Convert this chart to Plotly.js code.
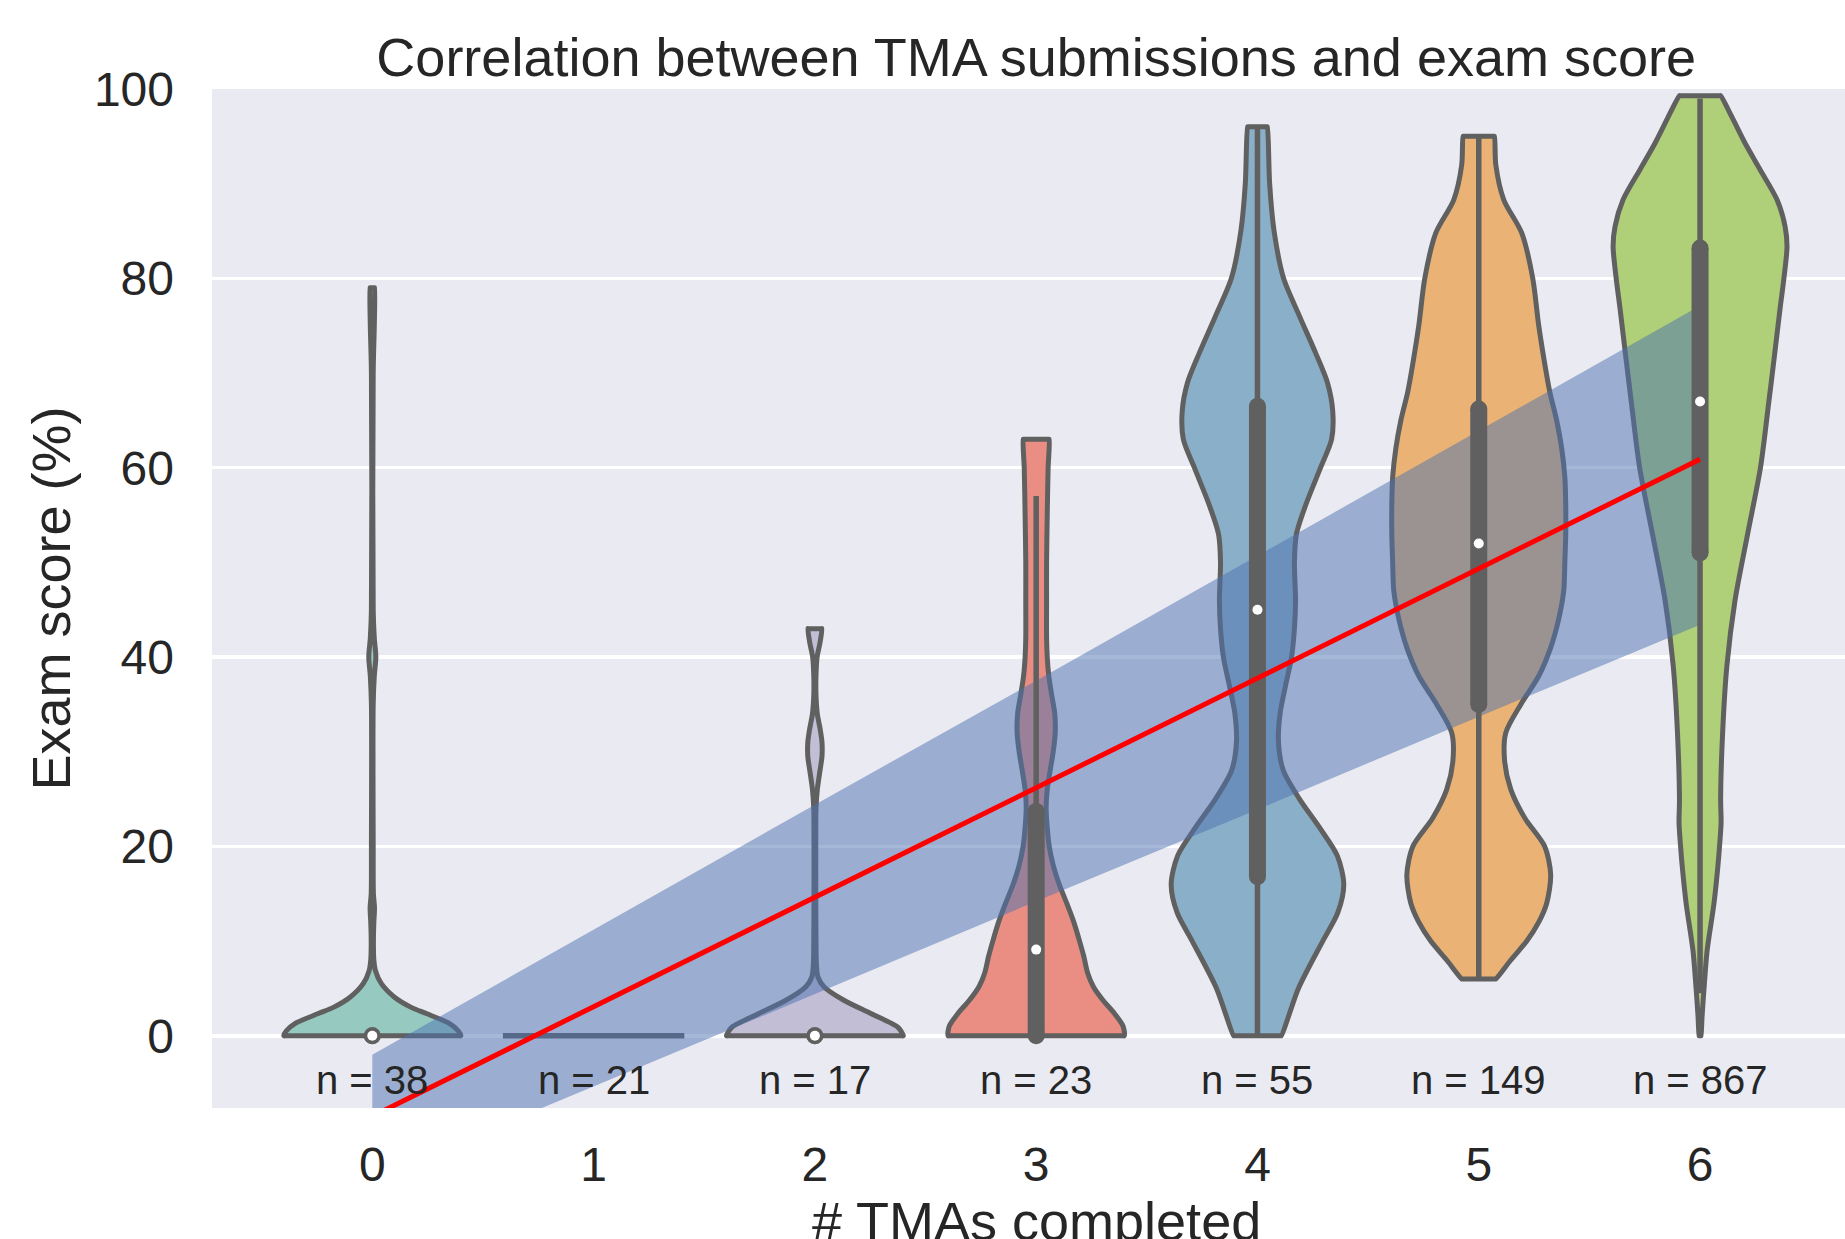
<!DOCTYPE html>
<html><head><meta charset="utf-8">
<script src="https://cdn.plot.ly/plotly-3.0.1.min.js"></script>
<style>html,body{margin:0;padding:0;background:#fff;overflow:hidden}#chart{width:1845px;height:1239px}</style>
</head><body><div id="chart"></div>
<script>
// ---------- data ----------
const categories = [0, 1, 2, 3, 4, 5, 6];
const tickLabels = ['0', '1', '2', '3', '4', '5', '6'];
const counts = [38, 21, 17, 23, 55, 149, 867];

// violin density profiles: exam-score levels and half-widths (in category units)
const v0Y = [0, 0.5, 1.3, 2.35, 3.0, 4.1, 5.5, 6.9, 8, 10, 12, 13.5, 15, 20, 35, 38, 40, 42, 45, 70, 75, 79];
const v0W = [0.400, 0.389, 0.348, 0.244, 0.176, 0.099, 0.041, 0.014, 0.007, 0.005, 0.007, 0.010, 0.005, 0.004, 0.004, 0.009, 0.016, 0.009, 0.004, 0.004, 0.009, 0.011];
const v1Y = [0];
const v1W = [0.41];
const v2Y = [0, 0.5, 0.93, 2.35, 3.75, 5.16, 6.2, 7.5, 10, 15, 20, 24, 26, 28, 29.5, 31, 32.5, 34, 36, 38, 40, 41.5, 43];
const v2W = [0.400, 0.389, 0.374, 0.253, 0.131, 0.042, 0.014, 0.007, 0.005, 0.004, 0.004, 0.005, 0.011, 0.023, 0.032, 0.032, 0.023, 0.011, 0.005, 0.005, 0.010, 0.023, 0.032];
const v3Y = [0, 1, 2.4, 3.8, 5.2, 6.6, 8.4, 10, 12, 14, 16, 18, 20, 22, 24, 26, 28, 30, 32, 34, 36, 38, 40, 42, 46, 50, 55, 60, 63];
const v3W = [0.398, 0.393, 0.352, 0.300, 0.258, 0.233, 0.215, 0.196, 0.170, 0.138, 0.104, 0.077, 0.059, 0.050, 0.045, 0.050, 0.063, 0.077, 0.086, 0.084, 0.070, 0.057, 0.050, 0.047, 0.047, 0.047, 0.050, 0.054, 0.059];
const v4Y = [0, 5, 10, 13, 16, 19, 22, 25, 28, 31, 34, 37, 40, 43, 46, 50, 53, 56, 60, 63, 66, 69, 72, 76, 80, 85, 90, 96];
const v4W = [0.108, 0.185, 0.295, 0.363, 0.390, 0.361, 0.280, 0.190, 0.117, 0.095, 0.102, 0.127, 0.154, 0.167, 0.172, 0.167, 0.176, 0.217, 0.285, 0.335, 0.340, 0.316, 0.265, 0.190, 0.118, 0.075, 0.055, 0.045];
const v5Y = [6, 8, 10, 12, 14, 17, 20, 23, 26, 29, 32, 35, 38, 41, 44, 47, 50, 53, 56, 59, 62, 65, 68, 71, 75, 80, 84.8, 88.3, 92, 95];
const v5W = [0.077, 0.145, 0.217, 0.271, 0.307, 0.325, 0.298, 0.208, 0.145, 0.117, 0.122, 0.190, 0.271, 0.325, 0.361, 0.384, 0.389, 0.393, 0.393, 0.389, 0.375, 0.352, 0.321, 0.298, 0.271, 0.244, 0.194, 0.113, 0.077, 0.071];
const v6Y = [0, 2, 5, 9, 14, 18, 20, 22.5, 25, 32, 39, 46, 53, 60, 67, 71.4, 76.7, 80.2, 83.4, 85.5, 88.3, 91.5, 94.3, 97, 99.3];
const v6W = [0.005, 0.009, 0.018, 0.032, 0.063, 0.081, 0.088, 0.095, 0.093, 0.102, 0.121, 0.158, 0.215, 0.273, 0.311, 0.334, 0.361, 0.380, 0.393, 0.384, 0.348, 0.271, 0.203, 0.145, 0.093];

// inner box statistics (null = not drawn)
const q1 = [0, null, 0, 0, 16.8, 35.0, 51.0];
const q3 = [0, null, 0, 23.7, 66.5, 66.2, 83.2];
const medians = [0, null, 0, 9.1, 45.0, 52.0, 67.0];
const whiskerLow = [null, null, null, 0, 0, 6, 4.5];
const whiskerHigh = [null, null, null, 57, 96, 95, 99];

// regression fit and its confidence band
const fitX = [0, 6];
const fitY = [-8.5, 60.9];
const bandX = [0, 1, 2, 3, 4, 5, 6];
const bandUpper = [-2.0, 11.2, 24.4, 37.5, 50.7, 63.9, 77.1];
const bandLower = [-15.1, -5.3, 4.4, 14.2, 23.9, 33.7, 43.4];

// ---------- styles ----------
const palette = ['#96cac1', '#f5f5bc', '#c1bed6', '#ea8e83', '#8aafc9', '#eab375', '#afcf78'];
const edgeGray = '#606060';
const textColor = '#262626';
const FONT = '"Liberation Sans", Arial, "DejaVu Sans", sans-serif';

const profiles = [[v0Y, v0W], [v1Y, v1W], [v2Y, v2W], [v3Y, v3W], [v4Y, v4W], [v5Y, v5W], [v6Y, v6W]];

const traces = [];
// violin bodies (flat ends at the data limits, smooth sides)
profiles.forEach(([ys, ws], i) => {
  const c = categories[i];
  if (ys.length === 1) {
    traces.push({type: 'scatter', mode: 'lines', x: [c - ws[0], c + ws[0]], y: [ys[0], ys[0]],
      line: {color: edgeGray, width: 5.5}, hoverinfo: 'skip', showlegend: false});
    return;
  }
  const n = ys.length;
  const xs = [], yy = [];
  // bottom edge (flat) then right side upward
  xs.push(c + ws[0] * 0.97); yy.push(ys[0]);
  for (let k = 0; k < n; k++) { xs.push(c + ws[k]); yy.push(ys[k]); }
  // top edge (flat)
  xs.push(c + ws[n - 1] * 0.97); yy.push(ys[n - 1]);
  xs.push(c - ws[n - 1] * 0.97); yy.push(ys[n - 1]);
  for (let k = n - 1; k >= 0; k--) { xs.push(c - ws[k]); yy.push(ys[k]); }
  xs.push(c - ws[0] * 0.97); yy.push(ys[0]);
  xs.push(xs[0]); yy.push(yy[0]);
  traces.push({type: 'scatter', mode: 'lines', x: xs, y: yy, fill: 'toself', fillcolor: palette[i],
    line: {color: edgeGray, width: 5, shape: 'spline', smoothing: 0.8}, hoverinfo: 'skip', showlegend: false});
});

// confidence band
traces.push({type: 'scatter', mode: 'lines',
  x: bandX.concat(bandX.slice().reverse()),
  y: bandUpper.concat(bandLower.slice().reverse()),
  fill: 'toself', fillcolor: 'rgba(76,114,176,0.5)', line: {width: 0, color: 'rgba(0,0,0,0)'},
  hoverinfo: 'skip', showlegend: false});

// whiskers and boxes
categories.forEach((c, i) => {
  if (whiskerLow[i] !== null) {
    traces.push({type: 'scatter', mode: 'lines', x: [c, c], y: [whiskerLow[i], whiskerHigh[i]],
      line: {color: edgeGray, width: 5.5}, hoverinfo: 'skip', showlegend: false});
  }
  if (q1[i] !== null) {
    traces.push({type: 'scatter', mode: 'lines+markers', x: [c, c], y: [q1[i], q3[i]],
      line: {color: edgeGray, width: 17}, marker: {color: edgeGray, size: 17, line: {width: 0}},
      hoverinfo: 'skip', showlegend: false});
  }
});

// regression line
traces.push({type: 'scatter', mode: 'lines', x: fitX, y: fitY,
  line: {color: '#ff0000', width: 5}, hoverinfo: 'skip', showlegend: false});

// medians
const mx = [], my = [];
categories.forEach((c, i) => { if (medians[i] !== null) { mx.push(c); my.push(medians[i]); } });
traces.push({type: 'scatter', mode: 'markers', x: mx, y: my,
  marker: {color: '#ffffff', size: 10, line: {width: 0}}, hoverinfo: 'skip', showlegend: false});

const annotations = categories.map((c, i) => ({
  x: c, y: -4.62, xref: 'x', yref: 'y', text: 'n = ' + counts[i], showarrow: false,
  xanchor: 'center', yanchor: 'middle', font: {family: FONT, size: 40, color: textColor}
}));
// x-axis title (sits partly below the picture edge, as in the reference)
annotations.push({x: 3, xref: 'x', y: -0.111, yref: 'paper', text: '# TMAs completed', showarrow: false,
  xanchor: 'center', yanchor: 'middle', font: {family: FONT, size: 54, color: textColor}});

const layout = {
  width: 1845, height: 1239,
  margin: {l: 212, r: 0, t: 89, b: 131, pad: 0},
  paper_bgcolor: '#ffffff', plot_bgcolor: '#eaeaf2',
  font: {family: FONT, color: textColor},
  showlegend: false,
  title: {text: 'Correlation between TMA submissions and exam score', x: 0.5047, xref: 'paper',
    xanchor: 'center', y: 1 - 57 / 1239, yref: 'container', yanchor: 'middle',
    font: {family: FONT, size: 54, color: textColor}},
  xaxis: {range: [-0.7244, 6.655], tickmode: 'array', tickvals: categories, ticktext: tickLabels,
    showgrid: false, zeroline: false, showline: false, ticks: '',
    tickfont: {family: FONT, size: 48, color: textColor}, ticklabelstandoff: 24,
    fixedrange: true, automargin: false},
  yaxis: {range: [-7.63, 100], tickmode: 'array', tickvals: [0, 20, 40, 60, 80, 100],
    ticktext: ['0', '20', '40', '60', '80', '100'],
    showgrid: true, gridcolor: '#ffffff', gridwidth: 3.5, zeroline: false, showline: false, ticks: '',
    tickfont: {family: FONT, size: 48, color: textColor}, ticklabelstandoff: 37,
    title: {text: 'Exam score (%)', font: {family: FONT, size: 54, color: textColor}, standoff: 6},
    fixedrange: true, automargin: false},
  annotations: annotations,
  hovermode: false
};

Plotly.newPlot('chart', traces, layout, {displayModeBar: false, staticPlot: true});
</script>
</body></html>
